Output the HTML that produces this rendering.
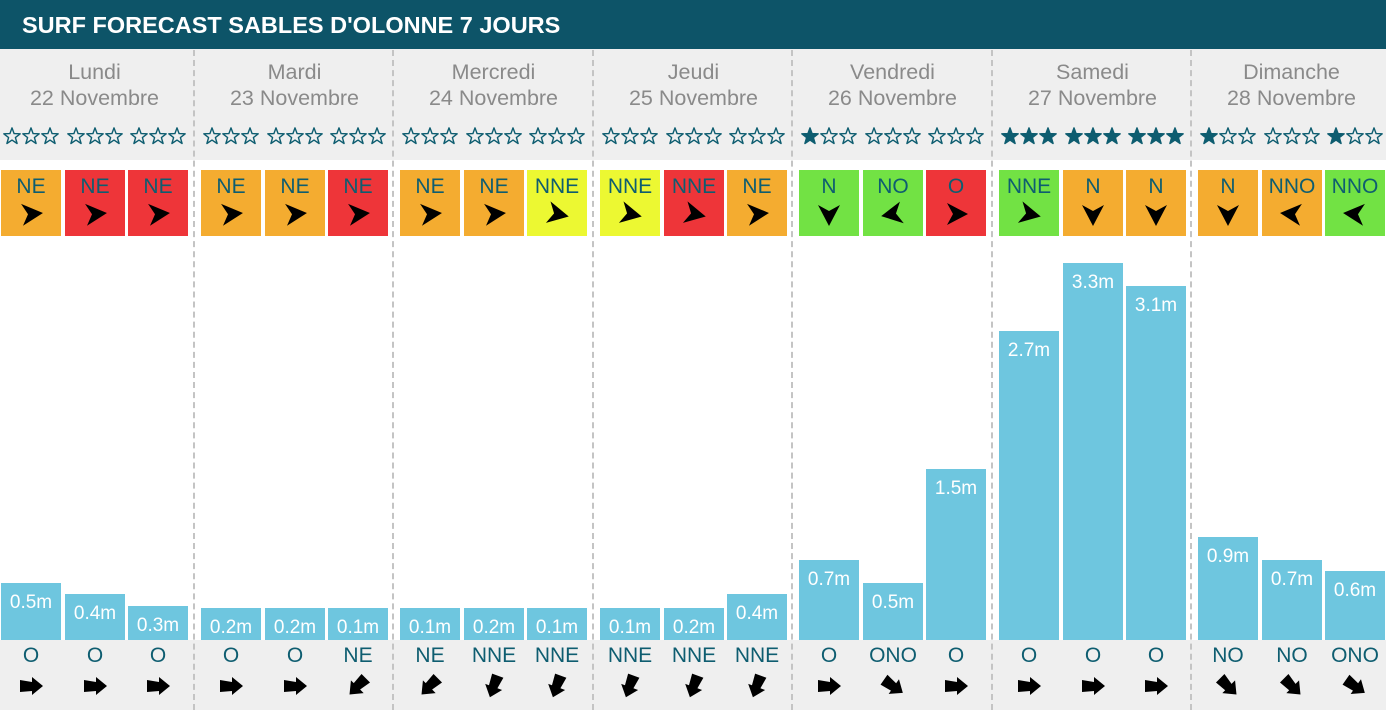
<!DOCTYPE html>
<html><head><meta charset="utf-8"><style>
body{margin:0;width:1386px;height:710px;overflow:hidden;background:#fff;font-family:"Liberation Sans",Arial,sans-serif;position:relative}
.a{position:absolute}
#hd{left:0;top:0;width:1386px;height:49px;background:#0d5468;color:#fff;font-weight:bold;font-size:23.5px;line-height:50px;padding-left:22px;box-sizing:border-box}
.band{left:0;width:1386px;background:#efefef}
.sep{width:0;border-left:2px dashed #c4c4c4;top:50px;height:660px}
.day{width:199px;text-align:center;color:#8a8a8a;font-size:21.5px;line-height:26px;top:59px}
.wb{width:60px;height:66px;top:170px;text-align:center;color:#0e5d70;font-size:21px;line-height:34px}
.bar{width:60px;background:#6ec6df;color:#fff;font-size:19px;text-align:center}
.sw{width:60px;text-align:center;color:#0e5d70;font-size:21px;top:644px}
</style></head><body>
<div class="a band" style="top:49px;height:111px"></div>
<div class="a band" style="top:640px;height:70px"></div>
<div class="a" id="hd">SURF FORECAST SABLES D'OLONNE 7 JOURS</div>
<div id="c"></div>
<script>
var days=[["Lundi","22 Novembre"],["Mardi","23 Novembre"],["Mercredi","24 Novembre"],["Jeudi","25 Novembre"],["Vendredi","26 Novembre"],["Samedi","27 Novembre"],["Dimanche","28 Novembre"]];
var C={o:"#f4ac30",r:"#ee3539",y:"#ecf832",g:"#72e244"};
var W=[[["NE","o"],["NE","r"],["NE","r"]],[["NE","o"],["NE","o"],["NE","r"]],[["NE","o"],["NE","o"],["NNE","y"]],[["NNE","y"],["NNE","r"],["NE","o"]],[["N","g"],["NO","g"],["O","r"]],[["NNE","g"],["N","o"],["N","o"]],[["N","o"],["NNO","o"],["NNO","g"]]];
var B=[[.5,.4,.3],[.2,.2,.1],[.1,.2,.1],[.1,.2,.4],[.7,.5,1.5],[2.7,3.3,3.1],[.9,.7,.6]];
var S=[["O","O","O"],["O","O","NE"],["NE","NNE","NNE"],["NNE","NNE","NNE"],["O","ONO","O"],["O","O","O"],["NO","NO","ONO"]];
var ST=[[0,0,0],[0,0,0],[0,0,0],[0,0,0],[1,0,0],[3,3,3],[1,0,1]];
var WA={NE:-5,NNE:12,N:90,NO:170,O:0,NNO:185};
var SA={O:0,NE:135,NNE:110,ONO:35,NO:45};
function star(cx,cy,f){var p=[];for(var k=0;k<10;k++){var r=k%2?3.6:8.6,a=-Math.PI/2+k*Math.PI/5;p.push((cx+r*Math.cos(a)).toFixed(1)+","+(cy+r*Math.sin(a)).toFixed(1));}
return '<polygon points="'+p.join(" ")+'" fill="'+(f?"#0e5d70":"none")+'" stroke="#0e5d70" stroke-width="1.4" stroke-linejoin="round"/>';}
var h="";
for(var d=0;d<7;d++){
 var x0=Math.round(d*199.5);
 if(d>0)h+='<div class="a sep" style="left:'+(x0-7)+'px"></div>';
 h+='<div class="a day" style="left:'+(x0-5)+'px">'+days[d][0]+'<br>'+days[d][1]+'</div>';
 for(var i=0;i<3;i++){
  var x=x0+1+Math.round(i*63.5);
  var s='<svg class="a" width="60" height="24" style="left:'+x+'px;top:124px">';
  for(var k=0;k<3;k++)s+=star(11+k*19,12.5,k<ST[d][i]);
  h+=s+'</svg>';
  var w=W[d][i];
  h+='<div class="a wb" style="left:'+x+'px;background:'+C[w[1]]+'">'+w[0]+
  '<svg width="60" height="34" style="position:absolute;left:0;top:28px"><g transform="translate(30,16) rotate('+WA[w[0]]+')"><polygon points="12,0 -9,-11 -3,0 -9,11" fill="#000"/></g></svg></div>';
  var v=B[d][i],bh=Math.max(32,Math.round(v*114.3));
  h+='<div class="a bar" style="left:'+x+'px;top:'+(640-bh)+'px;height:'+bh+'px;line-height:40px">'+v+'m</div>';
  h+='<div class="a sw" style="left:'+x+'px">'+S[d][i]+
  '<svg width="60" height="34" style="position:absolute;left:0;top:25px"><g transform="translate(30,17) rotate('+SA[S[d][i]]+')"><polygon points="-11,-6 1,-4 1,-9 12,0 1,9 1,5 -11,6" fill="#000"/></g></svg></div>';
 }
}
document.getElementById("c").innerHTML=h;
</script>
</body></html>
